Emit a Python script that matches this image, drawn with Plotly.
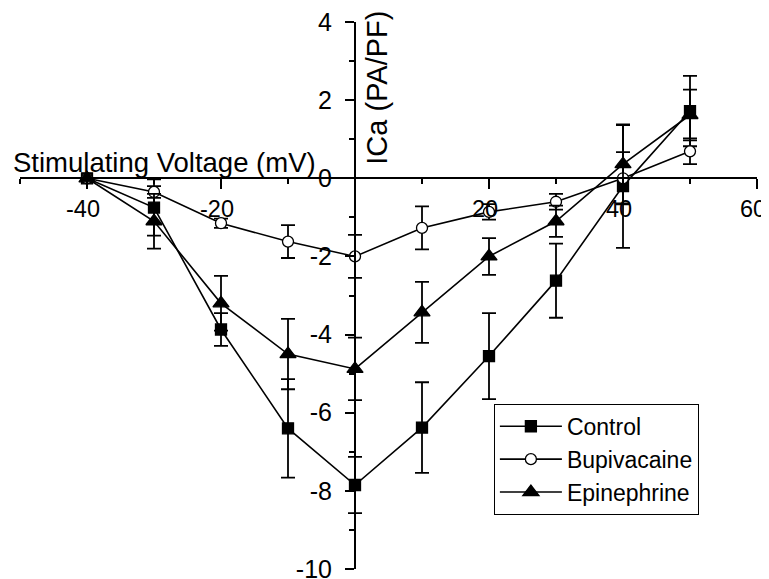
import plotly.graph_objects as go

voltage = [-40, -30, -20, -10, 0, 10, 20, 30, 40, 50]
control = [0, -0.75, -3.87, -6.4, -7.85, -6.38, -4.55, -2.62, -0.2, 1.72]
control_err = [0, 0.72, 0.42, 1.26, 0.72, 1.16, 1.1, 0.95, 1.58, 0.9]
bupivacaine = [0, -0.35, -1.15, -1.62, -2.0, -1.27, -0.86, -0.6, 0.0, 0.69]
bupivacaine_err = [0, 0.15, 0.12, 0.42, 0.55, 0.55, 0.2, 0.2, 0.67, 0.33]
epinephrine = [0, -1.1, -3.2, -4.5, -4.88, -3.43, -2.0, -1.1, 0.36, 1.62]
epinephrine_err = [0, 0.7, 0.7, 0.9, 0.8, 0.78, 0.47, 0.4, 1.0, 0.65]

x_tickvals = [-40, -20, 0, 20, 40, 60]
x_ticktext = ["-40", "-20", "", "20", "40", "60"]
y_tickvals = [-10, -8, -6, -4, -2, 0, 2, 4]
y_ticktext = ["-10", "-8", "-6", "-4", "-2", "0", "2", "4"]

FONT = "Liberation Sans, Arial, sans-serif"

def trace(name, y, err, symbol, size, fill):
    return go.Scatter(
        x=voltage, y=y, name=name, mode="lines+markers",
        line=dict(color="black", width=1.6),
        marker=dict(symbol=symbol, size=size, color=fill,
                    line=dict(color="black", width=1.3)),
        error_y=dict(type="data", array=err, visible=True,
                     color="black", thickness=1.8, width=7),
    )

fig = go.Figure()
fig.add_trace(trace("Control", control, control_err, "square", 11, "black"))
fig.add_trace(trace("Bupivacaine", bupivacaine, bupivacaine_err, "circle", 11, "white"))
fig.add_trace(trace("Epinephrine", epinephrine, epinephrine_err, "triangle-up", 14, "black"))

fig.update_layout(
    width=769, height=579,
    margin=dict(l=12, r=20, t=14, b=18),
    paper_bgcolor="white", plot_bgcolor="white",
    font=dict(family=FONT, size=25, color="black"),
    showlegend=True,
    legend=dict(x=0.643, y=0.302, xanchor="left", yanchor="top",
                bordercolor="black", borderwidth=1, bgcolor="white",
                font=dict(size=23), itemwidth=62, tracegroupgap=0),
    xaxis=dict(range=[-50, 60], anchor="free", position=10/14,
               showgrid=False, zeroline=False, showline=True,
               linecolor="black", linewidth=2,
               tickmode="array", tickvals=x_tickvals, ticktext=x_ticktext,
               ticks="outside", ticklen=10, tickwidth=2, tickcolor="black",
               ticklabeloverflow="allow", ticklabelshift=-4,
               minor=dict(tickmode="linear", tick0=-50, dtick=10, ticks="outside",
                          ticklen=5, tickwidth=2, tickcolor="black"),
               tickfont=dict(size=23.5), automargin=False, fixedrange=True),
    yaxis=dict(range=[-10, 4], anchor="free", position=50/110,
               showgrid=False, zeroline=False, showline=True,
               linecolor="black", linewidth=2,
               tickmode="array", tickvals=y_tickvals, ticktext=y_ticktext,
               ticks="outside", ticklen=9, tickwidth=2, tickcolor="black",
               ticklabelstandoff=8, ticklabeloverflow="allow",
               minor=dict(tickmode="linear", tick0=-10, dtick=1, ticks="outside",
                          ticklen=5, tickwidth=2, tickcolor="black"),
               tickfont=dict(size=25), automargin=False, fixedrange=True),
    annotations=[
        dict(text="Stimulating Voltage (mV)", xref="paper", yref="paper",
             x=-0.012, y=0.712, xanchor="left", yanchor="bottom",
             showarrow=False, font=dict(size=27.5)),
        dict(text="ICa (PA/PF)", xref="paper", yref="paper",
             x=0.4845, y=0.88, xanchor="center", yanchor="middle",
             textangle=-90, showarrow=False, font=dict(size=29)),
    ],
)

fig.write_html("out.html")
